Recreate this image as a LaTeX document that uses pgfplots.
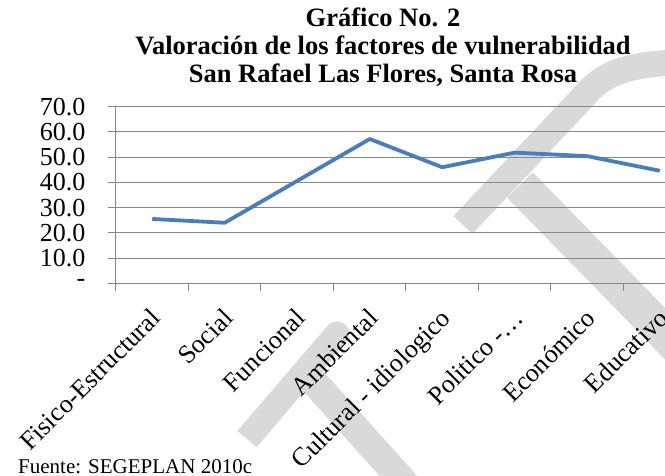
\documentclass[border=0pt]{standalone}
\usepackage{pgfplots}
\pgfplotsset{compat=1.18}
\usepackage{fontspec}
\setmainfont{Liberation Serif}
\definecolor{lineblue}{RGB}{74,126,187}
\definecolor{gridgray}{RGB}{134,134,134}
\definecolor{wmgray}{RGB}{217,217,217}
\begin{document}
\begin{tikzpicture}[x=1pt,y=1pt]
\useasboundingbox (0,0) rectangle (665,476);
% watermark (image coordinates, y downward)
\begin{scope}[shift={(0,476)}, yscale=-1, wmgray, line join=round]
\draw[line width=26pt] (463,225) -- (585,95) .. controls (605,72) and (630,62) .. (700,62);
\draw[line width=36pt] (520,185) -- (720,390);
\draw[line width=25pt] (247,439) -- (337,334);
\fill (337,334) circle (12.5);
\draw[line width=28pt] (305,372) -- (420,500);
\end{scope}
\node[anchor=base, inner sep=0pt, font=\bfseries\fontsize{26.5}{28}\selectfont] at (383,449) {Gráfico No. 2};
\node[anchor=base, inner sep=0pt, font=\bfseries\fontsize{26.5}{28}\selectfont] at (383,421) {Valoración de los factores de vulnerabilidad};
\node[anchor=base, inner sep=0pt, font=\bfseries\fontsize{26.5}{28}\selectfont] at (383,393) {San Rafael Las Flores, Santa Rosa};
\begin{axis}[
 at={(116pt,192.7pt)}, anchor=south west, scale only axis,
 width=580pt, height=176.6pt,
 xmin=-0.5, xmax=7.5, ymin=0, ymax=70,
 axis lines*=left, axis line style={gridgray, line width=1pt},
 xtick={-0.5,0.5,...,7.5}, x tick label as interval,
 xticklabels={Fisico-Estructural, Social, Funcional, Ambiental, Cultural - idiologico, Politico -…, Económico, Educativo},
 ytick={0,10,...,70}, yticklabels={-,10.0,20.0,30.0,40.0,50.0,60.0,70.0},
 ymajorgrids, grid style={gridgray, line width=1pt},
 tick align=outside, major tick length=7.5pt, tick style={gridgray, line width=1pt},
 ticklabel style={font=\fontsize{26}{28}\selectfont, inner sep=0pt},
 xticklabel style={xshift=-3pt, yshift=-16pt, rotate=45, anchor=north east},
 yticklabel style={xshift=-23pt, anchor=east},
 clip=false,
]
\addplot[lineblue, line width=3.8pt, line join=round] coordinates {(0,25.5)(1,24.0)(2,40.6)(3,57.2)(4,46.0)(5,51.8)(6,50.4)(7,44.6)};
\end{axis}
\node[anchor=base west, inner sep=0pt, font=\fontsize{21}{24}\selectfont] at (18,2) {Fuente: SEGEPLAN 2010c};
\end{tikzpicture}
\end{document}
